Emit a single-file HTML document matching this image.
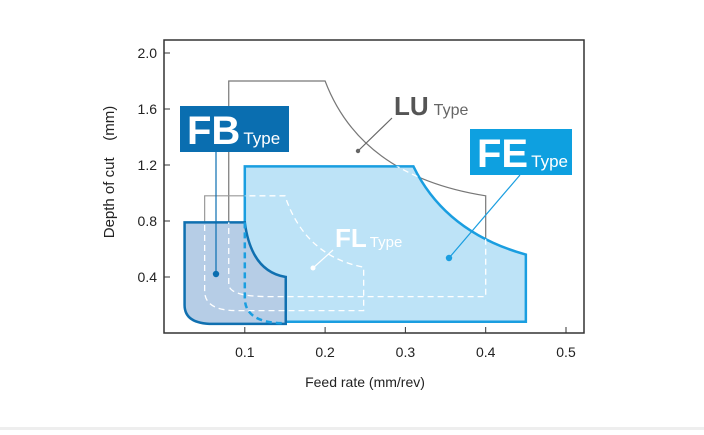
<!DOCTYPE html>
<html><head><meta charset="utf-8"><style>
body{margin:0;background:#fff;width:704px;height:430px;overflow:hidden;font-family:"Liberation Sans",sans-serif}
</style></head><body>
<svg id="c" width="704" height="430" font-family="Liberation Sans, sans-serif">
<rect x="0" y="427" width="704" height="3" fill="#eeeeee"/>
</svg>
<script>
const xTicks=[0.1,0.2,0.3,0.4,0.5];
const xTickLabels=["0.1","0.2","0.3","0.4","0.5"];
const yTicks=[0.4,0.8,1.2,1.6,2.0];
const yTickLabels=["0.4","0.8","1.2","1.6","2.0"];
// shapes: segments ['M'|'L',x,y] or ['Q',cx,cy,x,y] in data units
const luShape=[['M',0.08,0.35],['L',0.08,1.8],['L',0.2,1.8],['Q',0.245,1.12,0.4,0.98],['L',0.4,0.26],['L',0.13,0.26],['Q',0.08,0.26,0.08,0.35]];
const flShape=[['M',0.05,0.3],['L',0.05,0.98],['L',0.15,0.98],['Q',0.175,0.55,0.248,0.47],['L',0.248,0.16],['L',0.09,0.16],['Q',0.05,0.16,0.05,0.3]];
const feShape=[['M',0.1,0.08],['L',0.1,1.19],['L',0.31,1.19],['Q',0.35,0.72,0.45,0.56],['L',0.45,0.08]];
const fbShape=[['M',0.025,0.2],['L',0.025,0.79],['L',0.1,0.79],['Q',0.108,0.44,0.151,0.4],['L',0.151,0.065],['L',0.06,0.065],['Q',0.025,0.065,0.025,0.2]];
const feHidden=[['M',0.1,0.79],['L',0.1,0.25],['Q',0.1,0.07,0.15,0.07]];
const xs=v=>164.5+v*803, ys=v=>333-v*140;
const NS='http://www.w3.org/2000/svg', svg=document.getElementById('c');
function mk(t,a,p){const e=document.createElementNS(NS,t);for(const k in a)e.setAttribute(k,a[k]);(p||svg).appendChild(e);return e;}
function pd(s,close){return s.map(g=>g[0]==='Q'?`Q${xs(g[1])},${ys(g[2])} ${xs(g[3])},${ys(g[4])}`:`${g[0]}${xs(g[1])},${ys(g[2])}`).join(' ')+(close?' Z':'');}
let e=mk('rect',{x:164,y:40,width:420,height:293,fill:'none',stroke:'#333','stroke-width':1.5});


xTicks.forEach((v,i)=>{
 let t=mk('line',{x1:xs(v),x2:xs(v),y1:333,y2:327,stroke:'#333'});
 
 
 let l=mk('text',{x:xs(v),y:357,'text-anchor':'middle','font-size':14,fill:'#222'});l.textContent=xTickLabels[i];
 
 
});
yTicks.forEach((v,i)=>{
 let t=mk('line',{x1:164,x2:170,y1:ys(v),y2:ys(v),stroke:'#333'});
 
 
 let l=mk('text',{x:157,y:ys(v)+5,'text-anchor':'end','font-size':14,fill:'#222'});l.textContent=yTickLabels[i];
 
 
});
e=mk('text',{x:365,y:387,'text-anchor':'middle','font-size':14,fill:'#222'});e.textContent='Feed rate (mm/rev)';


e=mk('text',{x:0,y:0,'text-anchor':'middle','font-size':15,fill:'#222',transform:'translate(114,172) rotate(-90)','xml:space':'preserve'});e.textContent='Depth of cut \u00a0\u00a0\u00a0(mm)';


const defs=mk('defs',{});
const cp=mk('clipPath',{id:'feclip'},defs);mk('path',{d:pd(feShape,true)},cp);
const cp2=mk('clipPath',{id:'fbclip'},defs);mk('path',{d:pd(fbShape,true)},cp2);
e=mk('path',{d:pd(luShape),fill:'none',stroke:'#777','stroke-width':1.2});


e=mk('path',{d:pd(flShape),fill:'none',stroke:'#999','stroke-width':1.2});


e=mk('path',{d:pd(feShape,true),fill:'#bde3f7',stroke:'#1a9ee0','stroke-width':2.5});


[luShape,flShape].forEach(s=>{
 let d=mk('path',{d:pd(s),fill:'none',stroke:'#fff','stroke-width':1.3,'stroke-dasharray':'6,4','clip-path':'url(#feclip)'});
 
 
});
e=mk('path',{d:pd(fbShape,true),fill:'#b6cde6',stroke:'#1070b0','stroke-width':2.5});


[luShape,flShape].forEach(s=>{
 let d=mk('path',{d:pd(s),fill:'none',stroke:'#fff','stroke-width':1.3,'stroke-dasharray':'6,4','clip-path':'url(#fbclip)'});
 
 
});
e=mk('path',{d:pd(feHidden),fill:'none',stroke:'#1a9ee0','stroke-width':2.5,'stroke-dasharray':'6,4'});


function leader(name,x1,y1,x2,y2,col,r){
 let g=mk('g',{});
 
 
 mk('line',{x1,y1,x2,y2,stroke:col,'stroke-width':1.2},g);mk('circle',{cx:x1,cy:y1,r,fill:col},g);
}
leader('lu-leader',358,151,392,118,'#666',2.2);
leader('fl-leader',313,268,333,250,'#fff',2.5);
leader('fe-leader',449,258,520,175,'#1a9ee0',3.2);
leader('fb-leader',216,274,216,152,'#0a6eb0',3.2);
e=mk('rect',{x:180,y:106,width:109,height:46,fill:'#0a6eb0'});


e=mk('text',{x:187,y:144,fill:'#fff','font-size':40,'font-weight':'bold'});e.innerHTML='FB<tspan font-size="17" font-weight="normal" dx="3">Type</tspan>';


e=mk('rect',{x:470,y:129,width:102,height:46,fill:'#0ea0e0'});


e=mk('text',{x:477,y:167,fill:'#fff','font-size':40,'font-weight':'bold'});e.innerHTML='FE<tspan font-size="17" font-weight="normal" dx="3">Type</tspan>';


e=mk('text',{x:394,y:115,fill:'#555','font-size':26,'font-weight':'bold'});e.innerHTML='LU<tspan font-size="16" font-weight="normal" fill="#666" dx="5">Type</tspan>';


e=mk('text',{x:335,y:247,fill:'#fff','font-size':26,'font-weight':'bold'});e.innerHTML='FL<tspan font-size="15" font-weight="normal" dx="3">Type</tspan>';


</script>
</body></html>
